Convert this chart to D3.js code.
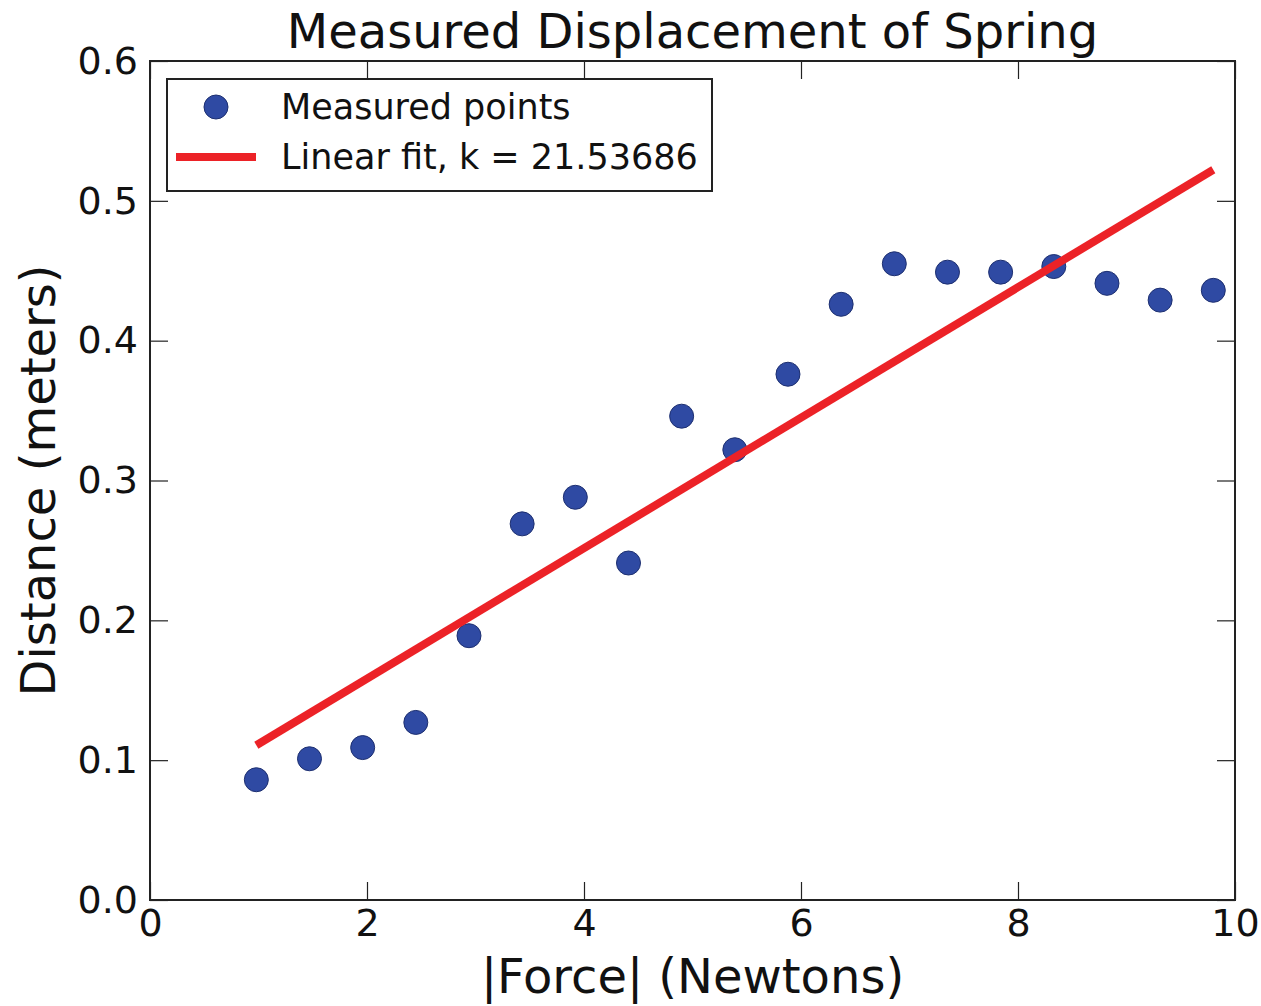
<!DOCTYPE html>
<html>
<head>
<meta charset="utf-8">
<script src="https://cdn.jsdelivr.net/npm/d3@7"></script>
<style>
  body { margin: 0; background: #fff; }
  text { font-family: "DejaVu Sans", sans-serif; fill: #111; }
</style>
</head>
<body>
<svg id="chart" width="1261" height="1006"></svg>
<script>
var forceN = [0.98, 1.47, 1.96, 2.45, 2.94, 3.43, 3.92, 4.41, 4.90, 5.39,
              5.88, 6.37, 6.86, 7.35, 7.84, 8.33, 8.82, 9.31, 9.80];
var distM  = [0.086, 0.101, 0.109, 0.127, 0.189, 0.269, 0.288, 0.241, 0.346, 0.322,
              0.376, 0.426, 0.455, 0.449, 0.449, 0.453, 0.441, 0.429, 0.436];

// fitted line end points
var fitX = [0.98, 9.80];
var fitY = [0.1107, 0.5222];

var xTicks = [0, 2, 4, 6, 8, 10];
var yTicks = [0.0, 0.1, 0.2, 0.3, 0.4, 0.5, 0.6];

var plotL = 150, plotR = 1235, plotT = 61, plotB = 900;

var svg = d3.select('#chart');

var x = d3.scaleLinear().domain([0, 10]).range([plotL, plotR]);
var y = d3.scaleLinear().domain([0, 0.6]).range([plotB, plotT]);

// ticks on all four sides, pointing inward (classic matplotlib)
var tickLen = 18;
function styleAxis(g) {
    g.select('.domain').remove();
    g.selectAll('.tick line').attr('stroke', '#222').attr('stroke-width', 1.2);
    g.selectAll('.tick text').style('font-size', '38px').attr('fill', '#111');
}

svg.append('g')
    .attr('transform', 'translate(0,' + plotB + ')')
    .call(d3.axisBottom(x).tickValues(xTicks).tickSize(-tickLen).tickPadding(9).tickFormat(d3.format('d')))
    .call(styleAxis)
    .selectAll('.tick text').attr('dy', '0.72em');

svg.append('g')
    .attr('transform', 'translate(0,' + plotT + ')')
    .call(d3.axisTop(x).tickValues(xTicks).tickSize(-tickLen).tickFormat(''))
    .call(styleAxis);

svg.append('g')
    .attr('transform', 'translate(' + plotL + ',0)')
    .call(d3.axisLeft(y).tickValues(yTicks).tickSize(-tickLen).tickPadding(12).tickFormat(d3.format('.1f')))
    .call(styleAxis);

svg.append('g')
    .attr('transform', 'translate(' + plotR + ',0)')
    .call(d3.axisRight(y).tickValues(yTicks).tickSize(-tickLen).tickFormat(''))
    .call(styleAxis);

// points
svg.append('g').selectAll('circle')
    .data(d3.zip(forceN, distM))
    .enter().append('circle')
    .attr('cx', function(d) { return x(d[0]); })
    .attr('cy', function(d) { return y(d[1]); })
    .attr('r', 12)
    .attr('fill', '#2f4aa3')
    .attr('stroke', '#1d2f70')
    .attr('stroke-width', 1);

// linear fit
var line = d3.line().x(function(d) { return x(d[0]); }).y(function(d) { return y(d[1]); });
svg.append('path')
    .datum(d3.zip(fitX, fitY))
    .attr('d', line)
    .attr('fill', 'none')
    .attr('stroke', '#ec2227')
    .attr('stroke-width', 8);

// frame
svg.append('rect')
    .attr('x', plotL).attr('y', plotT)
    .attr('width', plotR - plotL).attr('height', plotB - plotT)
    .attr('fill', 'none').attr('stroke', '#222').attr('stroke-width', 2);

// legend
var lg = svg.append('g');
lg.append('rect')
    .attr('x', 167).attr('y', 79).attr('width', 545).attr('height', 112)
    .attr('fill', '#fff').attr('stroke', '#222').attr('stroke-width', 2);
lg.append('circle')
    .attr('cx', 216).attr('cy', 107).attr('r', 12)
    .attr('fill', '#2f4aa3').attr('stroke', '#1d2f70');
lg.append('line')
    .attr('x1', 176).attr('x2', 256).attr('y1', 157).attr('y2', 157)
    .attr('stroke', '#ec2227').attr('stroke-width', 8);
lg.append('text').attr('x', 281).attr('y', 119).style('font-size', '35px').text('Measured points');
lg.append('text').attr('x', 281).attr('y', 169).style('font-size', '35px').text('Linear fit, k = 21.53686');

// titles
svg.append('text')
    .attr('x', (plotL + plotR) / 2).attr('y', 48)
    .attr('text-anchor', 'middle').style('font-size', '48px')
    .text('Measured Displacement of Spring');

svg.append('text')
    .attr('x', (plotL + plotR) / 2).attr('y', 993)
    .attr('text-anchor', 'middle').style('font-size', '48px')
    .text('|Force| (Newtons)');

svg.append('text')
    .attr('transform', 'translate(55,' + ((plotT + plotB) / 2) + ') rotate(-90)')
    .attr('text-anchor', 'middle').style('font-size', '48px')
    .text('Distance (meters)');
</script>
</body>
</html>
